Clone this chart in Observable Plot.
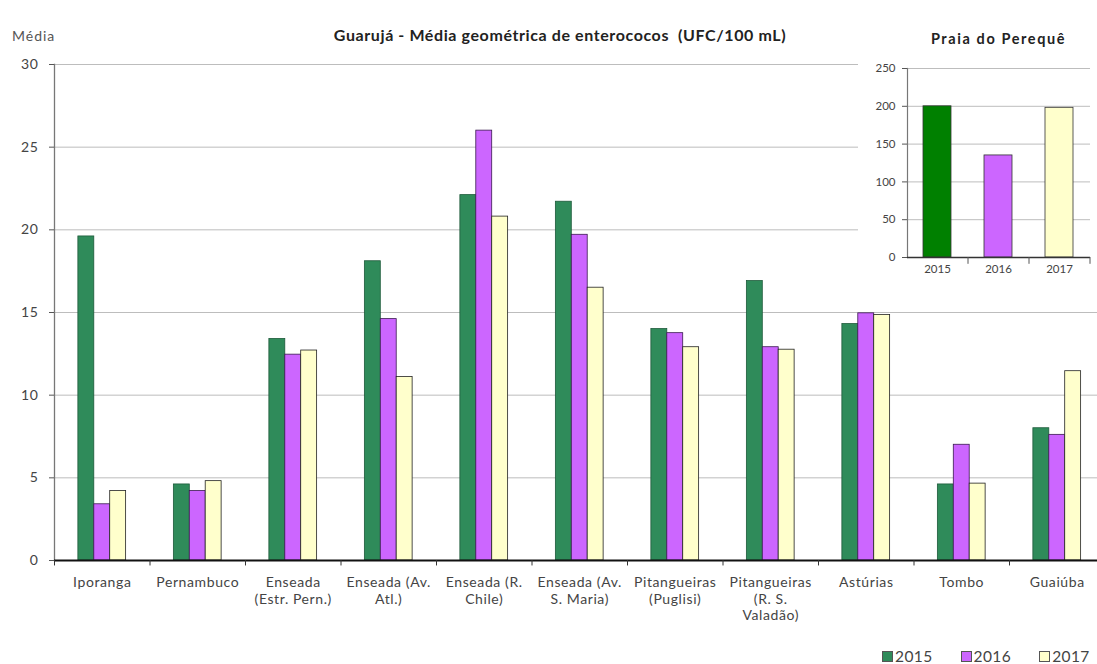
<!DOCTYPE html>
<html>
<head>
<meta charset="utf-8">
<script src="https://cdn.jsdelivr.net/npm/d3@7"></script>
<script src="https://cdn.jsdelivr.net/npm/@observablehq/plot@0.6"></script>
<style>
  body { margin: 0; background: #fff; font-family: Lato, "Open Sans", sans-serif; }
  #wrap { position: relative; width: 1097px; height: 664px; overflow: hidden; background: #fff; }
  #main { position: absolute; left: 0; top: 0; }
  #title { position: absolute; left: 260px; width: 600px; top: 25px; text-align: center;
           font-weight: bold; font-size: 16px; letter-spacing: 0.6px; color: #222; white-space: pre; }
  #ylab { position: absolute; left: 12px; top: 27px; font-size: 14px; letter-spacing: 1px; color: #555; }
  #inset { position: absolute; left: 858px; top: 18px; width: 239px; height: 268px; background: #fff; }
  #insetTitle { position: absolute; left: 29px; width: 223px; top: 12px; text-align: center;
                font-weight: bold; font-size: 14.5px; letter-spacing: 1.6px; color: #222; white-space: nowrap; }
  #insetPlot { position: absolute; left: 0; top: 0; }
  #legend { position: absolute; left: 882px; top: 647px; display: flex; gap: 28px;
            font-size: 15.5px; letter-spacing: 0.4px; color: #444; align-items: center; }
  .item { display: flex; align-items: center; }
  .sw { width: 11px; height: 11px; margin-right: 2px; box-sizing: border-box; border: 1px solid #555; }
</style>
</head>
<body>
<div id="wrap">
  <div id="main"></div>
  <div id="title">Guarujá - Média geométrica de enterococos  (UFC/100 mL)</div>
  <div id="ylab">Média</div>
  <div id="inset">
    <div id="insetPlot"></div>
    <div id="insetTitle">Praia do Perequê</div>
  </div>
  <div id="legend"></div>
</div>
<script>
// ---- data ----
const categories = ["Iporanga", "Pernambuco", "Enseada (Estr. Pern.)", "Enseada (Av. Atl.)",
  "Enseada (R. Chile)", "Enseada (Av. S. Maria)", "Pitangueiras (Puglisi)",
  "Pitangueiras (R. S. Valadão)", "Astúrias", "Tombo", "Guaiúba"];
const tickLabels = ["Iporanga", "Pernambuco", "Enseada\n(Estr. Pern.)", "Enseada (Av.\nAtl.)",
  "Enseada (R.\nChile)", "Enseada (Av.\nS. Maria)", "Pitangueiras\n(Puglisi)",
  "Pitangueiras\n(R. S.\nValadão)", "Astúrias", "Tombo", "Guaiúba"];
const years = ["2015", "2016", "2017"];
const v2015 = [19.6, 4.6, 13.4, 18.1, 22.1, 21.7, 14.0, 16.9, 14.3, 4.6, 8.0];
const v2016 = [3.4, 4.2, 12.45, 14.6, 26.0, 19.7, 13.75, 12.9, 14.95, 7.0, 7.6];
const v2017 = [4.2, 4.8, 12.7, 11.1, 20.8, 16.5, 12.9, 12.75, 14.85, 4.65, 11.45];
const yTicks = [0, 5, 10, 15, 20, 25, 30];

const insetYears = ["2015", "2016", "2017"];
const perequeValues = [200, 135, 198];
const insetTicks = [0, 50, 100, 150, 200, 250];

// ---- styles ----
const fills = ["#2f8b5a", "#cc66ff", "#ffffcc"];
const strokes = ["#1d5a3a", "#3a1a50", "#222"];
const insetFills = ["#008000", "#cc66ff", "#ffffcc"];

// ---- main chart ----
const series = [v2015, v2016, v2017];
const xRange = [54, 1104.5];
const step = (xRange[1] - xRange[0]) / categories.length;
const bw = step * 0.5;
const sub = bw / years.length;

const barMarks = years.map((yr, j) =>
  Plot.barY(categories.map((c, i) => ({cat: c, value: series[j][i]})), {
    x: "cat", y: "value", fill: fills[j], stroke: strokes[j], strokeWidth: 0.8,
    insetLeft: sub * j, insetRight: sub * (years.length - 1 - j)
  })
);

const main = Plot.plot({
  width: 1097, height: 664,
  marginTop: 64, marginBottom: 104, marginLeft: 54, marginRight: 0,
  style: {fontFamily: "Lato, sans-serif", background: "transparent", letterSpacing: "0.6px"},
  x: {domain: categories, range: xRange, paddingInner: 0.5, paddingOuter: 0.25, round: false, axis: null},
  y: {domain: [0, 30], axis: null},
  marks: [
    Plot.ruleY(yTicks.filter(d => d > 0), {stroke: "#bdbdbd", strokeWidth: 1}),
    ...barMarks,
    Plot.frame({anchor: "left", stroke: "#777", strokeWidth: 1.3}),
    Plot.ruleY([0], {stroke: "#111", strokeWidth: 2}),
    Plot.ruleX(categories, {x: d => d, y1: 0, y2: -0.33, dx: -step / 2, stroke: "#333"}),
    Plot.axisY(yTicks, {tickSize: 5, tickPadding: 11, fontSize: 14, fill: "#444", stroke: "#555", label: null}),
    Plot.text(categories, {x: d => d, text: (d, i) => tickLabels[i], frameAnchor: "bottom",
      lineAnchor: "top", dy: 15, fontSize: 14, fill: "#444", lineHeight: 1.18})
  ]
});
document.getElementById("main").appendChild(main);

// ---- inset chart ----
const insetStep = (232 - 49) / insetYears.length;
const inset = Plot.plot({
  width: 239, height: 268,
  marginTop: 50, marginBottom: 29, marginLeft: 49, marginRight: 7,
  style: {fontFamily: "Lato, sans-serif", background: "transparent"},
  x: {domain: insetYears, paddingInner: 0.54, paddingOuter: 0.27, axis: null},
  y: {domain: [0, 250], axis: null},
  color: {domain: insetYears, range: insetFills},
  marks: [
    Plot.ruleY(insetTicks.filter(d => d > 0), {stroke: "#bdbdbd"}),
    Plot.barY(insetYears.map((y, i) => ({year: y, value: perequeValues[i]})), {
      x: "year", y: "value", fill: "year", stroke: "#333", strokeWidth: 0.8
    }),
    Plot.frame({anchor: "left", stroke: "#777", strokeWidth: 1.2}),
    Plot.ruleY([0], {stroke: "#333", strokeWidth: 1.3}),
    Plot.ruleX(insetYears, {x: d => d, y1: 0, y2: -9, dx: insetStep / 2, stroke: "#555"}),
    Plot.axisY(insetTicks, {tickSize: 5, tickPadding: 7, fontSize: 11.5, fill: "#444", stroke: "#555", label: null}),
    Plot.text(insetYears, {x: d => d, frameAnchor: "bottom", lineAnchor: "top", dy: 7, fontSize: 11.5, fill: "#444"})
  ]
});
document.getElementById("insetPlot").appendChild(inset);

// ---- legend ----
const legend = document.getElementById("legend");
years.forEach((yr, j) => {
  const item = document.createElement("div");
  item.className = "item";
  const sw = document.createElement("span");
  sw.className = "sw";
  sw.style.background = fills[j];
  const t = document.createElement("span");
  t.textContent = yr;
  item.appendChild(sw);
  item.appendChild(t);
  legend.appendChild(item);
});
</script>
</body>
</html>
